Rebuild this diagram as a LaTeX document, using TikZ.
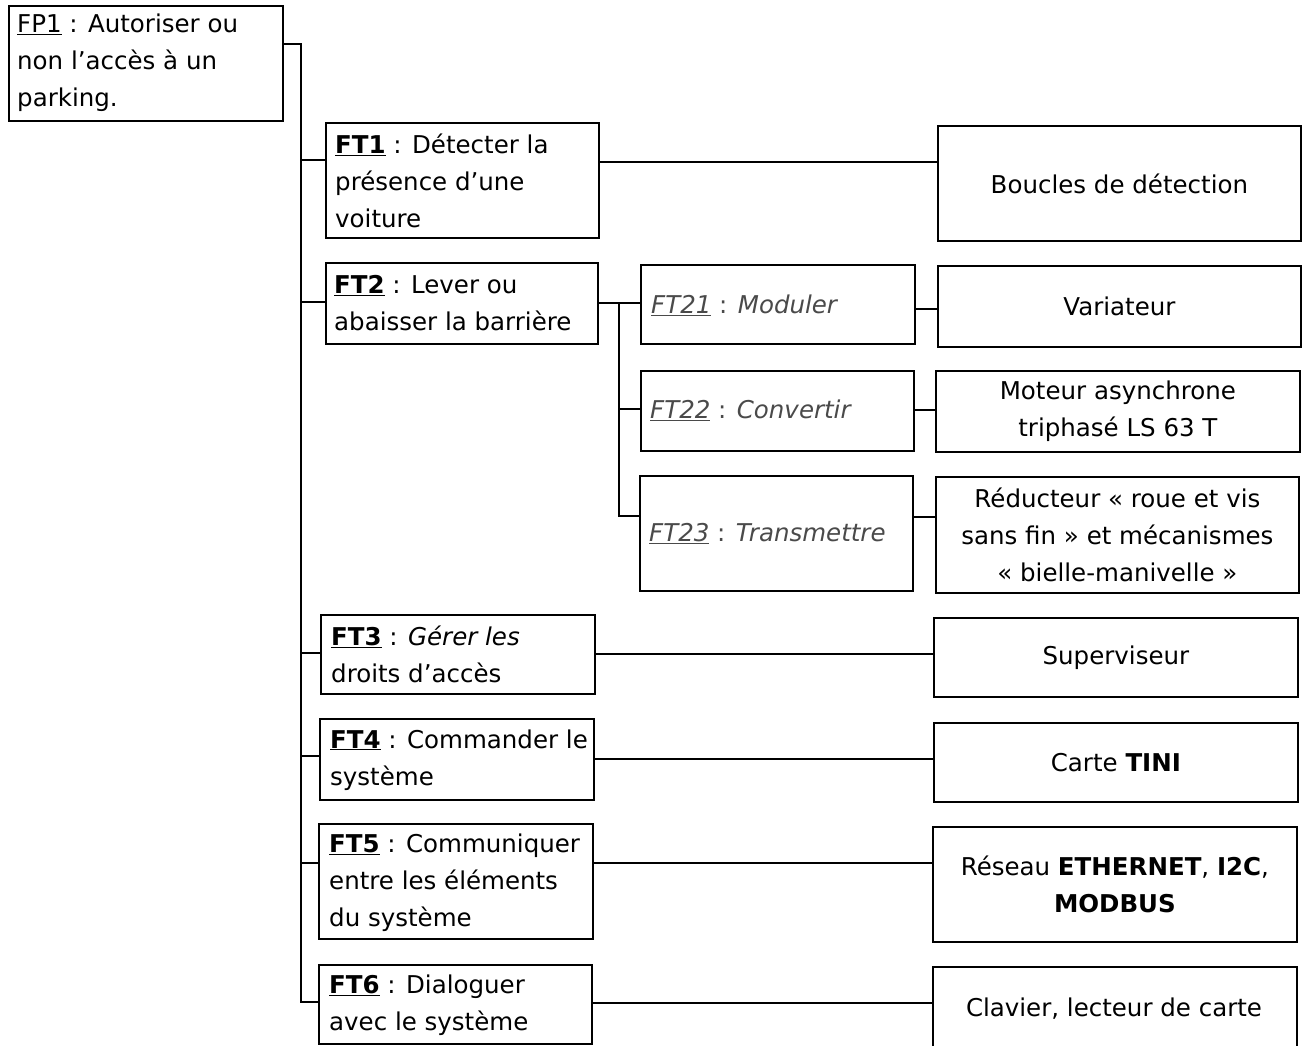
\documentclass[tikz,border=0pt]{standalone}
\usepackage{fontspec}
\setmainfont{DejaVu Sans}
\definecolor{subtxt}{HTML}{4A4A4A}
\newcommand{\bodyfont}{\fontsize{24.5}{37}\selectfont}
\tikzset{
  box/.style={draw, line width=1.8pt, anchor=north west, inner sep=0pt, font=\bodyfont},
  cbox/.style={box, align=center},
  txt/.style={anchor=west, align=left, inner sep=0pt, font=\bodyfont},
  link/.style={line width=1.6pt}
}
\newcommand{\lab}[1]{\underline{\textbf{#1}}}
\newcommand{\slab}[1]{\underline{\textit{#1}}}
\begin{document}
\begin{tikzpicture}[x=1pt,y=-1pt]
\useasboundingbox (0,0) rectangle (1303,1045);
% level 0
\node[box, minimum width=274, minimum height=115] (fp1) at (8,5) {};
\node[txt] (fp1t) at (17,63) {\underline{FP1} : Autoriser ou\\non l'accès à un\\parking.};
% FT boxes
\node[box, minimum width=273, minimum height=115] (ft1) at (325,122) {};
\node[txt] (ft1t) at (335,181) {\lab{FT1} : Détecter la\\présence d'une\\voiture};
\node[box, minimum width=272, minimum height=81] (ft2) at (325,262) {};
\node[txt] (ft2t) at (334,303) {\lab{FT2} : Lever ou\\abaisser la barrière};
\node[box, minimum width=274, minimum height=79] (ft3) at (320,614) {};
\node[txt] (ft3t) at (331,654) {\lab{FT3} : \textit{Gérer les}\\droits d'accès};
\node[box, minimum width=274, minimum height=81] (ft4) at (319,718) {};
\node[txt] (ft4t) at (330,760) {\lab{FT4} : Commander le\\système};
\node[box, minimum width=274, minimum height=115] (ft5) at (318,823) {};
\node[txt] (ft5t) at (329,883) {\lab{FT5} : Communiquer\\entre les éléments\\du système};
\node[box, minimum width=273, minimum height=79] (ft6) at (318,964) {};
\node[txt] (ft6t) at (329,1005) {\lab{FT6} : Dialoguer\\avec le système};
% FT2x boxes
\node[box, minimum width=274, minimum height=79] (ft21) at (640,264) {};
\node[txt, text=subtxt] (ft21t) at (651,305) {\slab{FT21} : \textit{Moduler}};
\node[box, minimum width=273, minimum height=80] (ft22) at (640,370) {};
\node[txt, text=subtxt] (ft22t) at (650,410) {\slab{FT22} : \textit{Convertir}};
\node[box, minimum width=273, minimum height=115] (ft23) at (639,475) {};
\node[txt, text=subtxt] (ft23t) at (649,534) {\slab{FT23} : \textit{Transmettre}};
% solution boxes
\node[cbox, minimum width=363, minimum height=115] (s1) at (937,125) {Boucles de détection};
\node[cbox, minimum width=363, minimum height=81] (s21) at (937,265) {Variateur};
\node[cbox, minimum width=364, minimum height=81] (s22) at (935,370) {Moteur asynchrone\\triphasé LS 63 T};
\node[cbox, minimum width=363, minimum height=116] (s23) at (935,476) {Réducteur « roue et vis\\sans fin » et mécanismes\\« bielle-manivelle »};
\node[cbox, minimum width=364, minimum height=79] (s3) at (933,617) {Superviseur};
\node[cbox, minimum width=364, minimum height=79] (s4) at (933,722) {Carte \textbf{TINI}};
\node[cbox, minimum width=364, minimum height=115] (s5) at (932,826) {Réseau \textbf{ETHERNET}, \textbf{I2C},\\\textbf{MODBUS}};
\node[box, minimum width=364, minimum height=84] (s6) at (932,966) {};
\node[font=\bodyfont, inner sep=0pt] (s6t) at (1114,1009) {Clavier, lecteur de carte};
% trunk
\coordinate (tb) at (301,1002);
\draw[link] ([yshift=19.5pt]fp1.east) -| (tb) -- (ft6.west |- tb);
\draw[link] (tb |- 0,160) -- (ft1.west |- 0,160);
\draw[link] (tb |- 0,302) -- (ft2.west |- 0,302);
\draw[link] (tb |- 0,653) -- (ft3.west |- 0,653);
\draw[link] (tb |- 0,756) -- (ft4.west |- 0,756);
\draw[link] (tb |- 0,863) -- (ft5.west |- 0,863);
% FT1..FT6 to solutions
\draw[link] (ft1.east |- 0,162) -- (s1.west |- 0,162);
\draw[link] (ft3.east |- 0,654) -- (s3.west |- 0,654);
\draw[link] (ft4.east |- 0,759) -- (s4.west |- 0,759);
\draw[link] (ft5.east |- 0,863) -- (s5.west |- 0,863);
\draw[link] (ft6.east |- 0,1003) -- (s6.west |- 0,1003);
% FT2 sub-tree
\coordinate (sb) at (619,516);
\draw[link] (ft2.east |- 0,303) -- (ft21.west |- 0,303);
\draw[link] (sb |- 0,303) -- (sb) -- (ft23.west |- sb);
\draw[link] (sb |- 0,409) -- (ft22.west |- 0,409);
\draw[link] (ft21.east |- 0,309) -- (s21.west |- 0,309);
\draw[link] (ft22.east |- 0,410) -- (s22.west |- 0,410);
\draw[link] (ft23.east |- 0,517) -- (s23.west |- 0,517);
\end{tikzpicture}
\end{document}
